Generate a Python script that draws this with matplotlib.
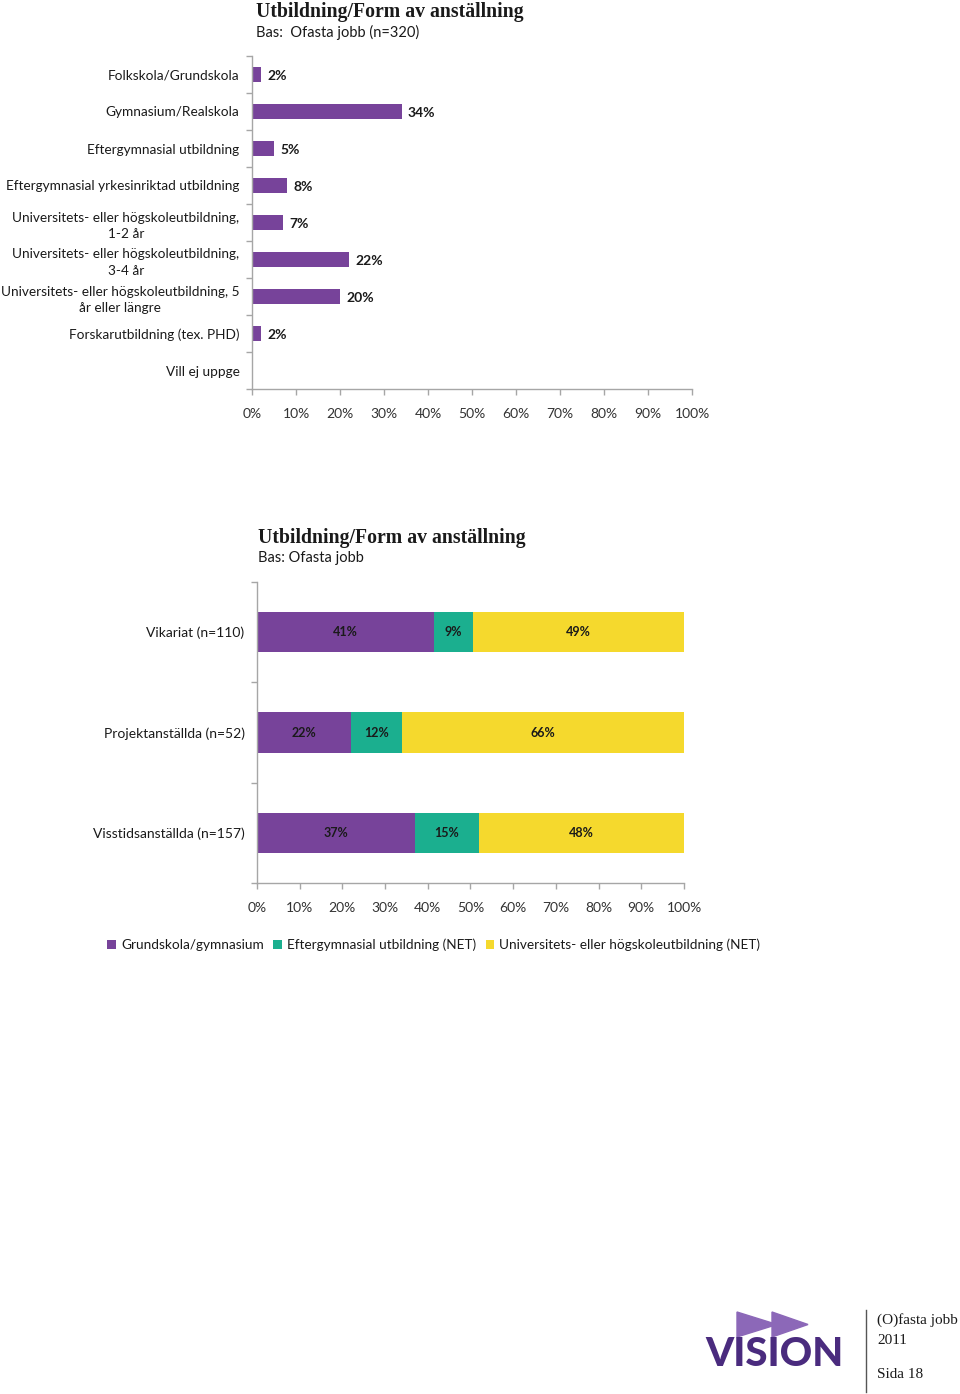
import matplotlib
matplotlib.use("Agg")
import matplotlib.pyplot as plt
from matplotlib.patches import Polygon
import numpy as np

plt.rcParams['font.family'] = ['Lato', 'DejaVu Sans']

# ---------- data ----------
top_title = "Utbildning/Form av anställning"
top_subtitle = "Bas:  Ofasta jobb (n=320)"
top_categories = [
    "Folkskola/Grundskola",
    "Gymnasium/Realskola",
    "Eftergymnasial utbildning",
    "Eftergymnasial yrkesinriktad utbildning",
    "Universitets- eller högskoleutbildning,\n1-2 år",
    "Universitets- eller högskoleutbildning,\n3-4 år",
    "Universitets- eller högskoleutbildning, 5\når eller längre",
    "Forskarutbildning (tex. PHD)",
    "Vill ej uppge",
]
top_values = [2, 34, 5, 8, 7, 22, 20, 2, None]

bot_title = "Utbildning/Form av anställning"
bot_subtitle = "Bas: Ofasta jobb"
bot_categories = ["Vikariat (n=110)", "Projektanställda (n=52)", "Visstidsanställda (n=157)"]
series_names = ["Grundskola/gymnasium", "Eftergymnasial utbildning (NET)",
                "Universitets- eller högskoleutbildning (NET)"]
grund = [41, 22, 37]
efter = [9, 12, 15]
univ = [49, 66, 48]

x_ticks = [0, 10, 20, 30, 40, 50, 60, 70, 80, 90, 100]
x_ticklabels = [f"{t}%" for t in x_ticks]

PURPLE = "#77439A"
TEAL = "#1BAF8F"
YELLOW = "#F5D92D"
AXIS_GRAY = "#A6A6A6"
TXT = "#1A1A1A"

W, H = 960, 1394
fig = plt.figure(figsize=(W / 100, H / 100), dpi=100)


def fx(px):
    return px / W


def fy(py):
    return 1 - py / H


def style_axes(ax, n):
    for s in ["top", "right"]:
        ax.spines[s].set_visible(False)
    for s in ["left", "bottom"]:
        ax.spines[s].set_color(AXIS_GRAY)
        ax.spines[s].set_linewidth(1.0)
    ax.set_xlim(0, 100)
    ax.set_xticks(x_ticks)
    ax.set_xticklabels(x_ticklabels, fontsize=10, color="#333333")
    ax.tick_params(axis="x", length=4, width=1, color=AXIS_GRAY, pad=10)
    ax.set_ylim(n - 0.5, -0.5)
    ax.set_yticks(np.arange(-0.5, n, 1.0), minor=True)
    ax.tick_params(axis="y", which="minor", length=4, width=1, color=AXIS_GRAY)
    ax.tick_params(axis="y", which="major", length=0, pad=9)


# ---------- top chart ----------
ax1 = fig.add_axes([fx(252), fy(389), fx(440), 333 / H])
n1 = len(top_categories)
y1 = np.arange(n1)
vals = [v if v is not None else 0 for v in top_values]
ax1.barh(y1, vals, height=0.38, color=PURPLE)
style_axes(ax1, n1)
ax1.set_yticks(y1)
ax1.set_yticklabels(top_categories, fontsize=9.8, color=TXT, multialignment="center",
                    linespacing=1.45)
for yi, v in zip(y1, top_values):
    if v is not None:
        ax1.text(v + 1.4, yi + 0.05, f"{v}%", va="center", ha="left", fontsize=10,
                 fontweight="bold", color=TXT)

fig.text(fx(256), fy(12), top_title, fontsize=14.2, fontweight="bold",
         family="Liberation Serif", va="center", ha="left", color=TXT)
fig.text(fx(256), fy(32), top_subtitle, fontsize=10.5, va="center", ha="left", color=TXT)

# ---------- bottom chart ----------
ax2 = fig.add_axes([fx(257), fy(883), fx(427), 301 / H])
n2 = len(bot_categories)
y2 = np.arange(n2)
data = np.array([grund, efter, univ], dtype=float)
totals = data.sum(axis=0)
shares = data / totals * 100
left = np.zeros(n2)
colors = [PURPLE, TEAL, YELLOW]
for i in range(3):
    ax2.barh(y2, shares[i], left=left, height=0.4, color=colors[i], label=series_names[i])
    for j in range(n2):
        ax2.text(left[j] + shares[i][j] / 2, y2[j], f"{int(data[i][j])}%",
                 ha="center", va="center", fontsize=9, fontweight="bold", color=TXT)
    left += shares[i]
style_axes(ax2, n2)
ax2.set_yticks(y2)
ax2.set_yticklabels(bot_categories, fontsize=10, color=TXT)

fig.text(fx(258), fy(538), bot_title, fontsize=14.2, fontweight="bold",
         family="Liberation Serif", va="center", ha="left", color=TXT)
fig.text(fx(258), fy(558), bot_subtitle, fontsize=10.5, va="center", ha="left", color=TXT)

leg = fig.legend(loc="center left", bbox_to_anchor=(fx(102), fy(945)), ncol=3,
                 frameon=False, fontsize=9.8, handlelength=0.6, handleheight=0.6,
                 handletextpad=0.4, columnspacing=0.7, borderaxespad=0)
for t in leg.get_texts():
    t.set_color(TXT)

# ---------- footer / logo ----------
tri_col = "#8C68B8"
fig.patches.append(Polygon([(fx(737), fy(1312)), (fx(777), fy(1324.5)), (fx(737), fy(1337))],
                           closed=True, transform=fig.transFigure, color=tri_col))
fig.patches.append(Polygon([(fx(772), fy(1312)), (fx(808), fy(1324.5)), (fx(772), fy(1337))],
                           closed=True, transform=fig.transFigure, color=tri_col))
fig.text(fx(774), fy(1355), "VISION", fontsize=29, fontweight="black", color="#4A2B7E",
         ha="center", va="center", family="Lato")
fig.add_artist(plt.Line2D([fx(866), fx(866)], [fy(1310), fy(1392)], color="#555555", lw=1,
                          transform=fig.transFigure))
fig.text(fx(877), fy(1320), "(O)fasta jobb", fontsize=11, family="Liberation Serif",
         ha="left", va="center", color=TXT)
fig.text(fx(877), fy(1340), "2011", fontsize=11, family="Liberation Serif",
         ha="left", va="center", color=TXT)
fig.text(fx(877), fy(1374), "Sida 18", fontsize=11, family="Liberation Serif",
         ha="left", va="center", color=TXT)

fig.savefig("out.png", dpi=100)
